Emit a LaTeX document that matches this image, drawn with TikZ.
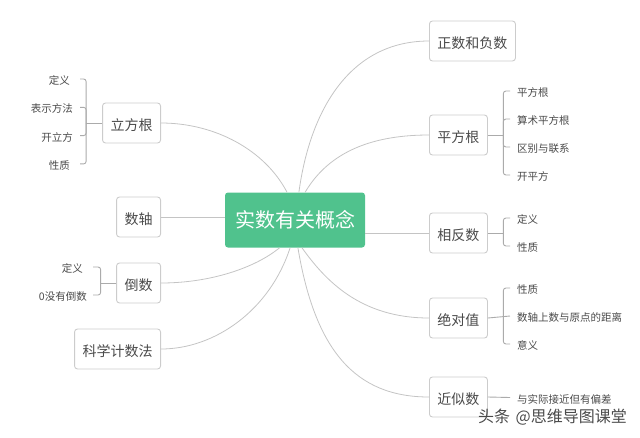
\documentclass[tikz,border=0pt]{standalone}
\usepackage{fontspec}
\setmainfont{Noto Sans CJK SC}
\usetikzlibrary{calc,positioning}
\definecolor{topicgreen}{HTML}{50C28D}
\definecolor{boxline}{HTML}{CCCCCC}
\definecolor{curveline}{HTML}{C4C4C4}
\definecolor{twigline}{HTML}{ABABAB}
\definecolor{ink}{HTML}{4A4A4A}
\tikzstyle{topicbox} = [rectangle, fill=topicgreen, rounded corners=3pt, text=white, font=\fontsize{20}{24}\selectfont,
minimum width=140pt, minimum height=55pt, inner sep=0pt]
\tikzstyle{branch} = [rectangle, draw=boxline, line width=0.9pt, rounded corners=3pt, fill=white, text=ink, font=\fontsize{14}{17}\selectfont,
minimum height=40pt, inner xsep=8pt, inner ysep=0pt, text height=14pt, text depth=0pt]
\tikzstyle{leaf} = [text=ink, font=\fontsize{10.5}{13}\selectfont, inner ysep=0pt, text height=11pt, text depth=0pt]
\tikzstyle{leafleft} = [leaf, anchor=east, inner xsep=8pt]
\tikzstyle{leafright} = [leaf, anchor=west, inner xsep=7pt]
\tikzstyle{curve} = [draw=curveline, line width=0.8pt]
\tikzstyle{twig} = [draw=twigline, line width=0.9pt, rounded corners=2.5pt]

\begin{document}
\begin{tikzpicture}[x=1pt, y=-1pt]
\useasboundingbox (0,0) rectangle (640,437);

\node [topicbox] (topic) at (295,220) {实数有关概念};

% left side
\node [branch, anchor=east] (lifang) at (161,123) {立方根};
\node [branch, anchor=east] (shuzhou) at (161,217) {数轴};
\node [branch, anchor=east] (daoshu) at (161,283) {倒数};
\node [branch, anchor=east] (kexue) at (161,349) {科学计数法};

% right side
\node [branch, anchor=west] (zhengfu) at (429,41) {正数和负数};
\node [branch, anchor=west] (pingfang) at (429,135) {平方根};
\node [branch, anchor=west] (xiangfan) at (429,233) {相反数};
\node [branch, anchor=west] (juedui) at (429,318) {绝对值};
\node [branch, anchor=west] (jinsi) at (429,397) {近似数};

% leaves
\node [leafleft, inner xsep=10pt] (lifang def) at (80,79) {定义};
\node [leafleft, inner xsep=7pt, below = 28.3pt of lifang def.east, anchor=east] (lifang form) {表示方法};
\node [leafleft, inner xsep=7pt, below = 28.3pt of lifang form.east, anchor=east] (lifang open) {开立方};
\node [leafleft, inner xsep=10pt, below = 28.3pt of lifang open.east, anchor=east] (lifang prop) {性质};
\node [leafleft, inner xsep=10pt] (daoshu def) at (93,267) {定义};
\node [leafleft, inner xsep=6pt, below = 28pt of daoshu def.east, anchor=east] (daoshu zero) {0没有倒数};

\node [leafright] (pingfang a) at (510,91) {平方根};
\node [leafright, below = 28pt of pingfang a.west, anchor=west] (pingfang b) {算术平方根};
\node [leafright, below = 28pt of pingfang b.west, anchor=west] (pingfang c) {区别与联系};
\node [leafright, below = 28pt of pingfang c.west, anchor=west] (pingfang d) {开平方};
\node [leafright] (xiangfan def) at (510,218) {定义};
\node [leafright, below = 28pt of xiangfan def.west, anchor=west] (xiangfan prop) {性质};
\node [leafright] (juedui prop) at (510,288) {性质};
\node [leafright, below = 28pt of juedui prop.west, anchor=west] (juedui dist) {数轴上数与原点的距离};
\node [leafright, below = 28pt of juedui dist.west, anchor=west] (juedui mean) {意义};
\node [leafright] (jinsi def) at (510,397.5) {与实际接近但有偏差};

\coordinate (lifang stem) at ($(lifang.west) - (16,0)$);
\coordinate (daoshu stem) at ($(daoshu.west) - (15.5,0)$);
\coordinate (pingfang stem) at ($(pingfang.east) + (15.5,0)$);
\coordinate (xiangfan stem) at ($(xiangfan.east) + (15.5,0)$);

% curves from the middle
\path [curve] (lifang.east) .. controls (215,123) and (265,150) .. (topic.106);
\path [curve] (shuzhou.east) -- (shuzhou.east -| topic.west);
\path [curve] (daoshu.east) .. controls (210,283) and (255,268) .. (topic.241);
\path [curve] (kexue.east) .. controls (215,349) and (270,310) .. (topic.260);
\path [curve] (zhengfu.west) .. controls (350,41) and (310,110) .. (topic.82);
\path [curve] (pingfang.west) .. controls (375,135) and (330,150) .. (topic.70);
\path [curve] (xiangfan.west) -- (xiangfan.west -| topic.east);
\path [curve] (juedui.west) .. controls (360,318) and (325,280) .. (topic.284);
\path [curve] (jinsi.west) .. controls (355,397) and (315,350) .. (topic.276);

% brackets
\path [twig] (lifang.west) -- (lifang stem);
\path [twig] (lifang def.east) -| (lifang stem);
\path [twig] (lifang form.east) -| (lifang stem);
\path [twig] (lifang open.east) -| (lifang stem);
\path [twig] (lifang prop.east) -| (lifang stem);
\path [twig] (daoshu.west) -- (daoshu stem);
\path [twig] (daoshu def.east) -| (daoshu stem);
\path [twig] (daoshu zero.east) -| (daoshu stem);
\path [twig] (pingfang.east) -- (pingfang stem);
\path [twig] (pingfang a.west) -| (pingfang stem);
\path [twig] (pingfang b.west) -| (pingfang stem);
\path [twig] (pingfang c.west) -| (pingfang stem);
\path [twig] (pingfang d.west) -| (pingfang stem);
\path [twig] (xiangfan.east) -- (xiangfan stem);
\path [twig] (xiangfan def.west) -| (xiangfan stem);
\path [twig] (xiangfan prop.west) -| (xiangfan stem);
\path [twig] (juedui.east) -- (juedui dist.west);
\path [twig] (juedui prop.west) -| ($(juedui.east) + (15.5,0)$);
\path [twig] (juedui mean.west) -| ($(juedui.east) + (15.5,0)$);
\path [twig] (jinsi.east) -- (jinsi def.west);

\node [text=ink, font=\fontsize{16}{19}\selectfont, inner sep=0pt, anchor=east] (watermark) at (627,417) {头条\hspace{2pt} @思维导图课堂};
\end{tikzpicture}
\end{document}
